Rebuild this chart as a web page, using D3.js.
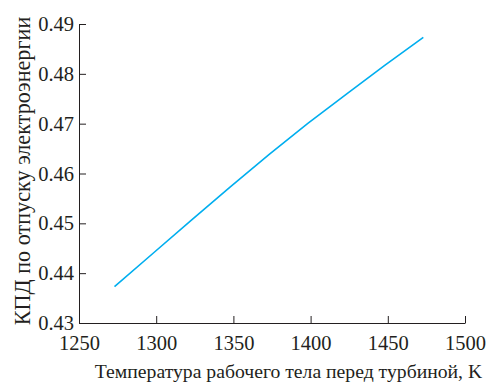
<!DOCTYPE html>
<html>
<head>
<meta charset="utf-8">
<script src="https://cdn.jsdelivr.net/npm/d3@7"></script>
<style>
  html, body { margin: 0; padding: 0; background: #fff; }
  svg { display: block; }
  text { font-family: "Liberation Serif", "DejaVu Serif", serif; fill: #231f20; }
</style>
</head>
<body>
<script>
// Turbine inlet temperature, K
const temperatures = [1273, 1298, 1323, 1348, 1373, 1398, 1423, 1448, 1473];
// Net electrical efficiency
const efficiency = [0.4373, 0.4440, 0.4507, 0.4573, 0.4638, 0.4700, 0.4759, 0.4817, 0.4873];

const xTicks = [1250, 1300, 1350, 1400, 1450, 1500];
const yTicks = [0.43, 0.44, 0.45, 0.46, 0.47, 0.48, 0.49];

const xTitle = "Температура рабочего тела перед турбиной, K";
const yTitle = "КПД по отпуску электроэнергии";

const W = 491, H = 387;
const margin = { left: 79, right: 26, top: 24, bottom: 64 };

const svg = d3.select("body").append("svg")
  .attr("width", W).attr("height", H);

const x = d3.scaleLinear().domain([1250, 1500]).range([margin.left, W - margin.right]);
const y = d3.scaleLinear().domain([0.43, 0.49]).range([H - margin.bottom, margin.top]);

const axisColor = "#231f20";
const tickFont = "20.5px";

// Bottom axis, ticks pointing into the plot
const gx = svg.append("g")
  .attr("transform", `translate(0,${H - margin.bottom})`)
  .call(d3.axisBottom(x).tickValues(xTicks).tickFormat(d3.format("d"))
    .tickSizeInner(-7).tickSizeOuter(0).tickPadding(12));
gx.select(".domain").attr("stroke", axisColor);
gx.selectAll(".tick line").attr("stroke", axisColor);
gx.selectAll(".tick text").style("font-size", tickFont).attr("fill", axisColor);

// Left axis, ticks pointing into the plot
const gy = svg.append("g")
  .attr("transform", `translate(${margin.left},0)`)
  .call(d3.axisLeft(y).tickValues(yTicks).tickFormat(d3.format(".2f"))
    .tickSizeInner(-7).tickSizeOuter(0).tickPadding(5));
gy.select(".domain").attr("stroke", axisColor);
gy.selectAll(".tick line").attr("stroke", axisColor);
gy.selectAll(".tick text").style("font-size", tickFont).attr("fill", axisColor);

// Efficiency curve
const line = d3.line()
  .x((d, i) => x(temperatures[i]))
  .y(d => y(d));

svg.append("path")
  .datum(efficiency)
  .attr("fill", "none")
  .attr("stroke", "#00aeef")
  .attr("stroke-width", 1.6)
  .attr("d", line);

// Axis titles
svg.append("text")
  .attr("x", (95 + 482) / 2)
  .attr("y", 378)
  .attr("text-anchor", "middle")
  .style("font-size", "19.7px")
  .text(xTitle);

svg.append("text")
  .attr("transform", `translate(30,${(5 + 337) / 2}) rotate(-90)`)
  .attr("text-anchor", "middle")
  .style("font-size", "22.2px")
  .text(yTitle);
</script>
</body>
</html>
